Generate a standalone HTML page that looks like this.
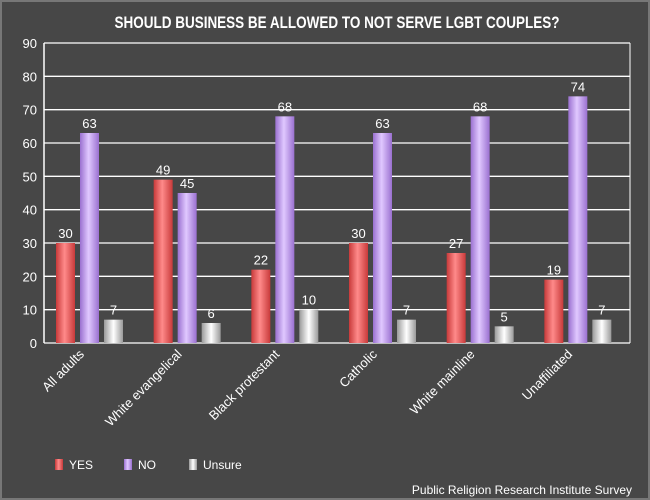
<!DOCTYPE html>
<html><head><meta charset="utf-8"><style>
body{margin:0;background:#474747;}
svg{display:block;font-family:"Liberation Sans",sans-serif;}
</style></head><body>
<svg width="650" height="500">
<defs>
<linearGradient id="gy" x1="0" x2="1"><stop offset="0" stop-color="#c83a3a"/><stop offset="0.45" stop-color="#ff8a8a"/><stop offset="1" stop-color="#c83a3a"/></linearGradient>
<linearGradient id="gn" x1="0" x2="1"><stop offset="0" stop-color="#9a70d0"/><stop offset="0.45" stop-color="#e0c8ff"/><stop offset="1" stop-color="#9a70d0"/></linearGradient>
<linearGradient id="gu" x1="0" x2="1"><stop offset="0" stop-color="#9a9a9a"/><stop offset="0.5" stop-color="#ffffff"/><stop offset="1" stop-color="#9a9a9a"/></linearGradient>
</defs>
<rect x="1" y="1" width="648" height="498" fill="#474747" stroke="#777" stroke-width="2"/>
<text x="337" y="28" text-anchor="middle" fill="#fff" font-size="17" font-weight="bold" textLength="445" lengthAdjust="spacingAndGlyphs">SHOULD BUSINESS BE ALLOWED TO NOT SERVE LGBT COUPLES?</text>
<g id="grid"></g><g id="bars"></g><g id="xl"></g>
<g>
<rect x="55" y="459" width="8" height="11" fill="url(#gy)"/><text x="69" y="469" fill="#fff" font-size="12">YES</text>
<rect x="124" y="459" width="8" height="11" fill="url(#gn)"/><text x="138" y="469" fill="#fff" font-size="12">NO</text>
<rect x="189" y="459" width="8" height="11" fill="url(#gu)"/><text x="203" y="469" fill="#fff" font-size="12">Unsure</text>
</g>
<text x="632" y="494" text-anchor="end" fill="#fff" font-size="12">Public Religion Research Institute Survey</text>
</svg>
<script>
const categories=["All adults","White evangelical","Black protestant","Catholic","White mainline","Unaffiliated"];
const yesVals=[30,49,22,30,27,19];
const noVals=[63,45,68,63,68,74];
const unsureVals=[7,6,10,7,5,7];
const ticks=[0,10,20,30,40,50,60,70,80,90];
const NS="http://www.w3.org/2000/svg";
const L=44,R=630,T=43,B=343,MAX=90;
const y=v=>B-(v/MAX)*(B-T);
const gw=(R-L)/categories.length;
function mk(tag,attrs,parent,txt){const e=document.createElementNS(NS,tag);for(const k in attrs)e.setAttribute(k,attrs[k]);if(txt!==undefined)e.textContent=txt;parent.appendChild(e);return e;}
const grid=document.getElementById('grid'),bars=document.getElementById('bars'),xl=document.getElementById('xl');
ticks.forEach(t=>{
 const l=mk('line',{x1:L,x2:R,y1:y(t),y2:y(t),stroke:'#fff','stroke-width':1.3},grid);
 
 
 const tx=mk('text',{x:L-7,y:y(t)+5,'text-anchor':'end',fill:'#fff','font-size':13},grid,t);
 
 
});
const ax=mk('line',{x1:L,x2:L,y1:T,y2:B,stroke:'#fff','stroke-width':1.5},grid);


const ax2=mk('line',{x1:R,x2:R,y1:T,y2:B,stroke:'#fff','stroke-width':1},grid);


const series=[[yesVals,'url(#gy)','yes'],[noVals,'url(#gn)','no'],[unsureVals,'url(#gu)','unsure']];
categories.forEach((c,i)=>{
 const g0=L+i*gw;
 series.forEach((s,j)=>{
  const v=s[0][i],x=g0+12+j*24;
  const r=mk('rect',{x:x,y:y(v),width:19,height:B-y(v),fill:s[1]},bars);
  
  
  const t=mk('text',{x:x+9.5,y:y(v)-5,'text-anchor':'middle',fill:'#fff','font-size':13},bars,v);
  
  
 });
 const cx=g0+gw/2-8;
 const lab=mk('text',{x:cx,y:B+12,'text-anchor':'end',fill:'#fff','font-size':13,transform:'rotate(-45 '+cx+' '+(B+12)+')'},xl,c);
 
 
});
</script>
</body></html>
